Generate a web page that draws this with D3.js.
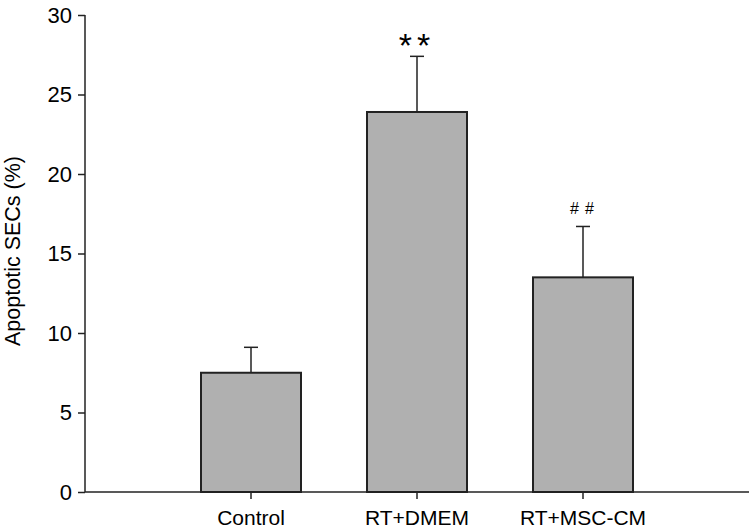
<!DOCTYPE html>
<html>
<head>
<meta charset="utf-8">
<script src="https://cdn.jsdelivr.net/npm/d3@7"></script>
<style>
  body { margin: 0; background: #fff; }
  text { font-family: "Liberation Sans", Arial, sans-serif; fill: #000; }
</style>
</head>
<body>
<div class="canvas"></div>
<script>
const categories = ['Control', 'RT+DMEM', 'RT+MSC-CM'];
const means = [7.5, 23.9, 13.5];
const errors = [1.6, 3.5, 3.2];
const marks = ['', '**', '##'];
const yTicks = [0, 5, 10, 15, 20, 25, 30];

const margin = { top: 15, right: 3, bottom: 38, left: 85 };
const width = 752, height = 530;
const graphWidth = width - margin.left - margin.right;
const graphHeight = height - margin.top - margin.bottom;

const svg = d3.select('.canvas')
    .append('svg')
    .attr('width', width)
    .attr('height', height);

const graph = svg.append('g')
    .attr('transform', `translate(${margin.left}, ${margin.top})`);

// scales
const x = d3.scaleBand()
    .domain(categories)
    .range([0, graphWidth])
    .paddingInner(0.3976)
    .paddingOuter(0.6988);
const y = d3.scaleLinear().domain([0, 30]).range([graphHeight, 0]);

const data = categories.map((c, i) => ({ cat: c, mean: means[i], err: errors[i], mark: marks[i] }));

// bars
graph.selectAll('rect.bar')
    .data(data)
    .enter()
    .append('rect')
        .attr('class', 'bar')
        .attr('x', d => x(d.cat))
        .attr('y', d => y(d.mean))
        .attr('width', x.bandwidth())
        .attr('height', d => y(0) - y(d.mean))
        .attr('fill', '#b0b0b0')
        .attr('stroke', '#222')
        .attr('stroke-width', 2);

// error bars
const eb = graph.selectAll('g.err')
    .data(data)
    .enter()
    .append('g')
        .attr('class', 'err')
        .attr('transform', d => `translate(${x(d.cat) + x.bandwidth() / 2}, 0)`);
eb.append('line')
    .attr('x1', 0).attr('x2', 0)
    .attr('y1', d => y(d.mean))
    .attr('y2', d => y(d.mean + d.err))
    .attr('stroke', '#222').attr('stroke-width', 1.5);
eb.append('line')
    .attr('x1', -7).attr('x2', 7)
    .attr('y1', d => y(d.mean + d.err))
    .attr('y2', d => y(d.mean + d.err))
    .attr('stroke', '#222').attr('stroke-width', 1.5);

// significance marks
eb.filter(d => d.mark === '**').append('text')
    .attr('y', d => y(d.mean + d.err) + 1)
    .attr('dx', 0)
    .attr('text-anchor', 'middle')
    .style('font-size', '34px')
    .style('letter-spacing', '5px')
    .text(d => d.mark);
eb.filter(d => d.mark === '##').append('text')
    .attr('y', d => y(d.mean + d.err) - 12)
    .attr('dx', 2)
    .attr('text-anchor', 'middle')
    .style('font-size', '16px')
    .style('letter-spacing', '6px')
    .text(d => d.mark);

// axes
const yAxis = d3.axisLeft(y).tickValues(yTicks).tickSize(7).tickPadding(6);
const yAxisGroup = graph.append('g').call(yAxis);
yAxisGroup.select('.domain').attr('d', `M0,${graphHeight}V0`);

const xAxis = d3.axisBottom(x).tickSize(7).tickPadding(11);
const xAxisGroup = graph.append('g')
    .attr('transform', `translate(0, ${graphHeight})`)
    .call(xAxis);
xAxisGroup.select('.domain').attr('d', `M0,0H${graphWidth}`);

graph.selectAll('.domain, .tick line').attr('stroke', '#222').attr('stroke-width', 1.5);
yAxisGroup.selectAll('text').style('font-size', '22px');
xAxisGroup.selectAll('text').style('font-size', '21px');

// y label
svg.append('text')
    .attr('transform', `translate(20, 251) rotate(-90)`)
    .attr('text-anchor', 'middle')
    .style('font-size', '21.5px')
    .text('Apoptotic SECs (%)');
</script>
</body>
</html>
